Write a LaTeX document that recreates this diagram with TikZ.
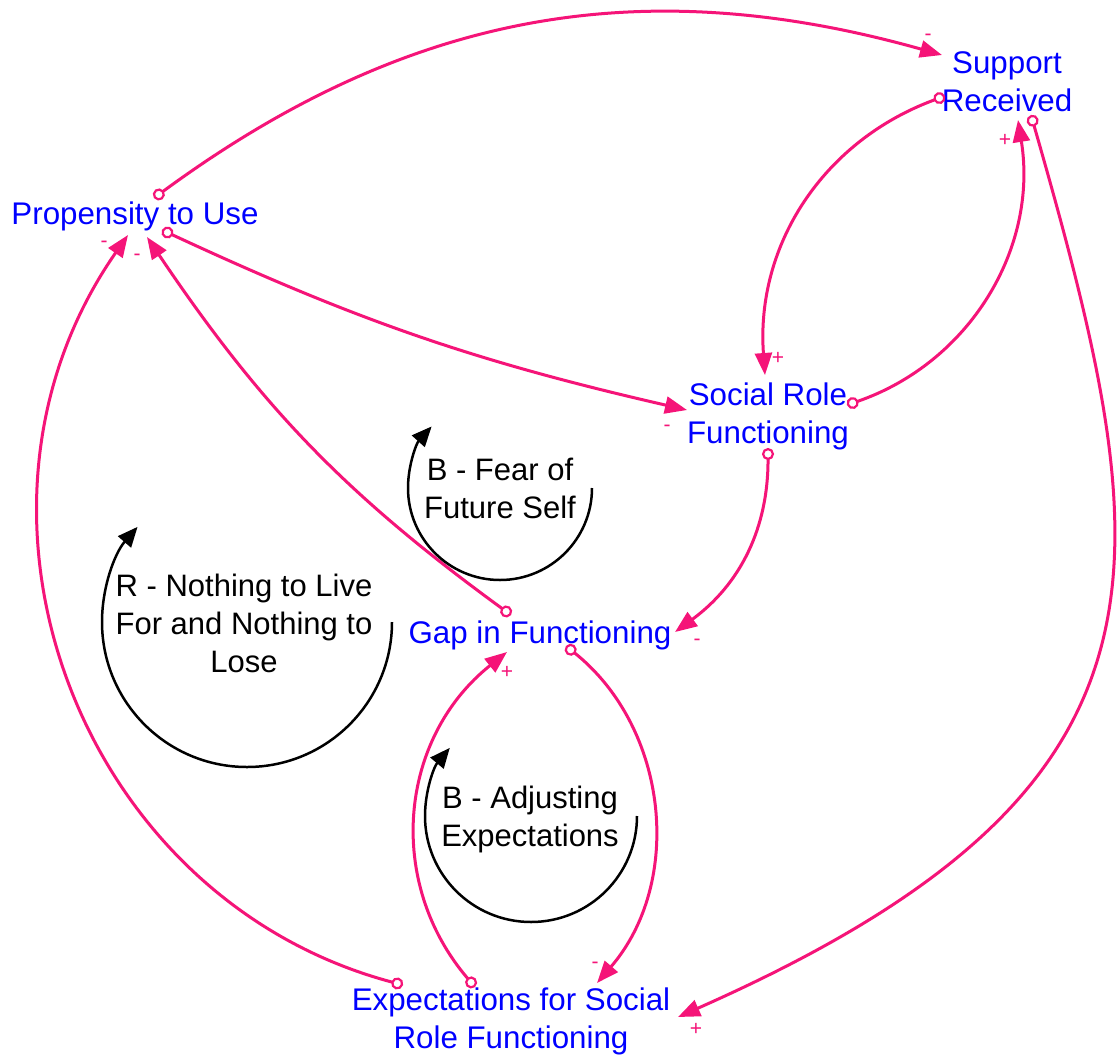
\documentclass[tikz,border=0pt]{standalone}
\usepackage{fontspec}
\setmainfont{Liberation Sans}
\usetikzlibrary{arrows.meta}
\definecolor{linkpink}{RGB}{245,20,120}
\definecolor{varblue}{RGB}{0,0,255}
\begin{document}
\begin{tikzpicture}[x=1pt,y=1pt,
  var/.style={text=varblue, font=\fontsize{31.3}{38}\selectfont, align=center, inner sep=0pt},
  looplabel/.style={text=black, font=\fontsize{31}{38}\selectfont, align=center, inner sep=0pt},
  link/.style={draw=linkpink, line width=3pt,
    {Circle[open,length=12pt,width=12pt,line width=2.2pt]}-{Triangle[length=22pt,width=17pt]}},
  polarity/.style={text=linkpink, font=\fontsize{21}{21}\selectfont, inner sep=0pt},
  loopline/.style={draw=black, line width=2.5pt, -{Triangle[length=20pt,width=17pt]}}
]
\useasboundingbox[fill=white] (0,0) rectangle (1120,-1061);

% variables
\node[var] (prop) at (135,-216) {Propensity to Use};
\node[var] (sup)  at (1007,-82) {Support\\Received};
\node[var] (srf)  at (768,-416) {Social Role\\Functioning};
\node[var] (gap)  at (540,-635) {Gap in Functioning};
\node[var] (exp)  at (511,-1021) {Expectations for Social\\Role Functioning};

% causal links
\draw[link] ([shift={(19,18)}]prop.center) to[bend left=26] ([shift={(-65,27)}]sup.center);
\draw[link] ([shift={(-62,-14)}]sup.center) to[bend right=37] ([shift={(-3,41)}]srf.center);
\draw[link] ([shift={(79,11)}]srf.center) to[bend right=40] ([shift={(11,-38)}]sup.center);
\draw[link] ([shift={(24,-33)}]sup.center) .. controls +(129,-450) and +(520,230) .. ([shift={(167,4)}]exp.center);
\draw[link] ([shift={(27,-14)}]prop.center) to[bend right=6] ([shift={(-81,6)}]srf.center);
\draw[link] ([shift={(0,-32)}]srf.center) to[bend left=27] ([shift={(135,3)}]gap.center);
\draw[link] ([shift={(-29,20)}]gap.center) to[bend left=10] ([shift={(12,-21)}]prop.center);
\draw[link] ([shift={(-108,36)}]exp.center) to[bend left=55, looseness=1.08] ([shift={(-7,-19)}]prop.center);
\draw[link] ([shift={(-36,34)}]exp.center) to[bend left=46, looseness=1.05] ([shift={(-33,-17)}]gap.center);
\draw[link] ([shift={(26,-11)}]gap.center) to[bend left=46] ([shift={(86,38)}]exp.center);

% link polarities
\node[polarity] (p1)  at (928,-37)  {-};
\node[polarity] (p2)  at (778,-358) {+};
\node[polarity] (p3)  at (1005,-140) {+};
\node[polarity] (p4)  at (696,-1029) {+};
\node[polarity] (p5)  at (667,-428) {-};
\node[polarity] (p6)  at (697,-642) {-};
\node[polarity] (p7)  at (137,-257) {-};
\node[polarity] (p8)  at (104,-244) {-};
\node[polarity] (p9)  at (507,-672) {+};
\node[polarity] (p10) at (595,-965) {-};

% feedback loops
\node[looplabel] (fear)    at (500,-488) {B - Fear of\\Future Self};
\node[looplabel] (nothing) at (244,-623) {R - Nothing to Live\\For and Nothing to\\Lose};
\node[looplabel] (adjust)  at (530,-819) {B - Adjusting\\Expectations};
\draw[loopline] ([shift={(92,0)}]fear.center) arc[start angle=0,end angle=-222,radius=92];
\draw[loopline] ([shift={(148,1)}]nothing.center) arc[start angle=0,end angle=-221,radius=145];
\draw[loopline] ([shift={(107,3)}]adjust.center) arc[start angle=0,end angle=-220,radius=106];
\end{tikzpicture}
\end{document}
